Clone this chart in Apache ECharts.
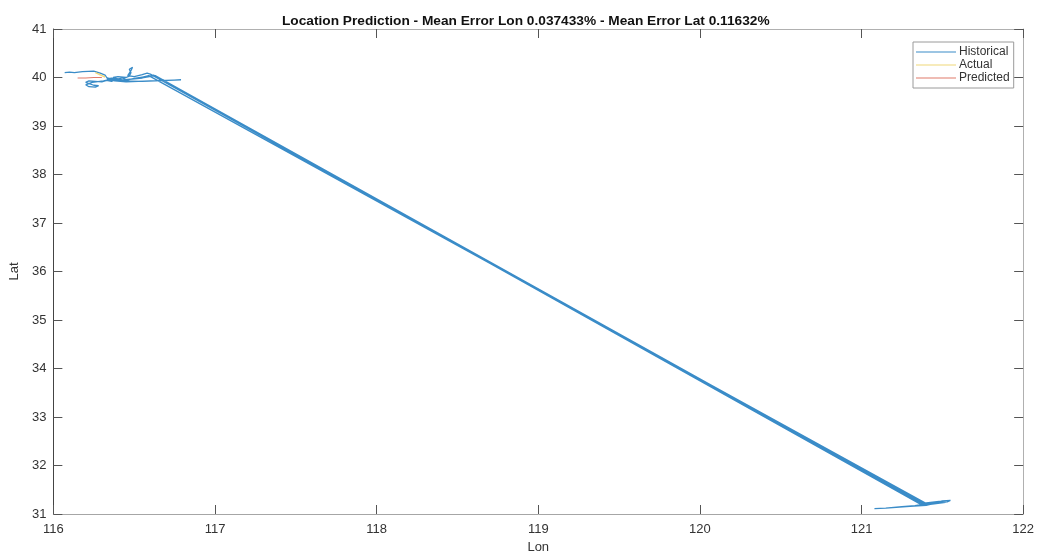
<!DOCTYPE html>
<html>
<head>
<meta charset="utf-8">
<script src="https://cdn.jsdelivr.net/npm/echarts@6/dist/echarts.min.js"></script>
<style>
html,body{margin:0;padding:0;background:#fff;}
#c{width:1037px;height:559px;}
</style>
</head>
<body>
<div id="c"></div>
<script>
// ---- data ----
var xTicks = [116, 117, 118, 119, 120, 121, 122];
var yTicks = [31, 32, 33, 34, 35, 36, 37, 38, 39, 40, 41];

var historicalLon = [116.07,116.10,116.13,116.18,116.25,116.29,116.32,116.33,116.35,116.38,116.36,116.33,116.30,116.26,116.22,116.20,116.21,116.25,116.28,116.26,116.22,116.20,116.24,116.31,116.35,116.40,116.42,116.45,116.43,116.40,116.37,116.40,116.45,116.47,116.48,116.47,116.49,116.48,116.46,116.50,116.55,116.58,116.60,
  121.38,121.33,121.25,121.15,121.08,121.15,121.30,121.40,121.45,121.50,121.55,121.53,121.46,121.42,121.37,
  116.62,116.57,116.50,116.45,116.40,116.55,116.79,116.60,116.45,116.38,116.34,116.38,116.43,116.52,116.59,
  121.41,121.36,121.40,121.48,121.52,121.45,121.40,
  116.63,116.55,116.47,116.42,116.36,116.33,116.37,116.40];
var historicalLat = [40.10,40.11,40.10,40.12,40.13,40.09,40.05,40.00,39.97,39.95,39.92,39.94,39.91,39.92,39.93,39.90,39.86,39.84,39.83,39.80,39.81,39.85,39.90,39.93,39.96,39.94,39.92,39.95,39.99,39.97,40.00,40.02,40.00,40.03,40.10,40.17,40.21,40.14,40.04,40.02,40.06,40.09,40.07,
  31.20,31.17,31.15,31.12,31.11,31.12,31.16,31.18,31.22,31.27,31.28,31.25,31.24,31.22,31.19,
  40.05,40.02,39.98,39.94,39.93,39.92,39.95,39.93,39.91,39.93,39.96,39.97,39.95,39.98,40.04,
  31.20,31.19,31.23,31.26,31.24,31.21,31.19,
  40.04,39.99,39.96,39.93,39.94,39.97,39.99,39.96];

var actualLon = [116.26, 116.28, 116.30, 116.32];
var actualLat = [40.10, 40.07, 40.04, 40.01];

var predictedLon = [116.15, 116.20, 116.25, 116.30];
var predictedLat = [39.99, 39.99, 40.00, 40.00];

var titleText = 'Location Prediction - Mean Error Lon 0.037433% - Mean Error Lat 0.11632%';

function pairs(xs, ys){ return xs.map(function(x,i){ return [x, ys[i]]; }); }

var chart = echarts.init(document.getElementById('c'), null, {renderer:'canvas'});
var font = 'Liberation Sans, Arial, Helvetica, sans-serif';
var txt = '#333333';
var lineIcon = 'path://M0,0 L40,0 L40,1 L0,1 Z';
var baseAxis = {
  type: 'value', splitLine: {show:false},
  axisTick: {show:true, inside:true, length:9, lineStyle:{color:'#555', width:1}},
  axisLabel: {show:true, color: txt, fontSize: 13, fontFamily: font}
};
chart.setOption({
  animation: false,
  backgroundColor: '#ffffff',
  title: {
    text: titleText, left: 277, top: 9,
    textStyle: {fontFamily: font, fontSize: 13.7, fontWeight: 'bold', color: '#111'}
  },
  legend: {
    left: 913, top: 42, orient: 'vertical',
    padding: [4, 4, 4, 3], itemGap: 1, itemWidth: 40, itemHeight: 14,
    symbolKeepAspect: true,
    backgroundColor: '#fff', borderColor: '#9a9a9a', borderWidth: 1, borderRadius: 0,
    textStyle: {fontFamily: font, fontSize: 12, color: txt, padding:[0,0,0,-2]},
    data: [
      {name:'Historical', icon: lineIcon},
      {name:'Actual', icon: lineIcon},
      {name:'Predicted', icon: lineIcon}
    ]
  },
  grid: {left: 49, right: 11, top: 29, bottom: 42, containLabel: false},
  xAxis: [
    Object.assign({}, baseAxis, {
      position: 'bottom', min: xTicks[0], max: xTicks[xTicks.length-1], interval: 1,
      name: 'Lon', nameLocation: 'middle', nameGap: 27,
      nameTextStyle: {fontFamily: font, fontSize: 13, color: txt},
      axisLine: {show:true, lineStyle:{color:'#a6a6a6', width:1}},
      axisLabel: {show:true, color: txt, fontSize: 13, fontFamily: font, margin: 9}
    }),
    Object.assign({}, baseAxis, {
      position: 'top', min: xTicks[0], max: xTicks[xTicks.length-1], interval: 1,
      axisLine: {show:true, lineStyle:{color:'#b0b0b0', width:1}},
      axisLabel: {show:false}
    })
  ],
  yAxis: [
    Object.assign({}, baseAxis, {
      position: 'left', min: yTicks[0], max: yTicks[yTicks.length-1], interval: 1,
      name: 'Lat', nameLocation: 'middle', nameGap: 30, nameRotate: 90,
      nameTextStyle: {fontFamily: font, fontSize: 13, color: txt},
      axisLine: {show:true, lineStyle:{color:'#444', width:1}},
      axisLabel: {show:true, color: txt, fontSize: 13, fontFamily: font, margin: 7}
    }),
    Object.assign({}, baseAxis, {
      position: 'right', min: yTicks[0], max: yTicks[yTicks.length-1], interval: 1,
      axisLine: {show:true, lineStyle:{color:'#b0b0b0', width:1}},
      axisLabel: {show:false}
    })
  ],
  series: [
    {name:'Historical', type:'line', data: pairs(historicalLon, historicalLat), symbol:'none',
     lineStyle:{color:'#3a8cc8', width:1.3}, itemStyle:{color:'#3a8cc8'}, z:2},
    {name:'Actual', type:'line', data: pairs(actualLon, actualLat), symbol:'none',
     lineStyle:{color:'#f0d878', width:1.5}, itemStyle:{color:'#f0d878'}, z:3},
    {name:'Predicted', type:'line', data: pairs(predictedLon, predictedLat), symbol:'none',
     lineStyle:{color:'#e07a6a', width:1.2}, itemStyle:{color:'#e07a6a'}, z:4}
  ]
});
</script>
</body>
</html>
